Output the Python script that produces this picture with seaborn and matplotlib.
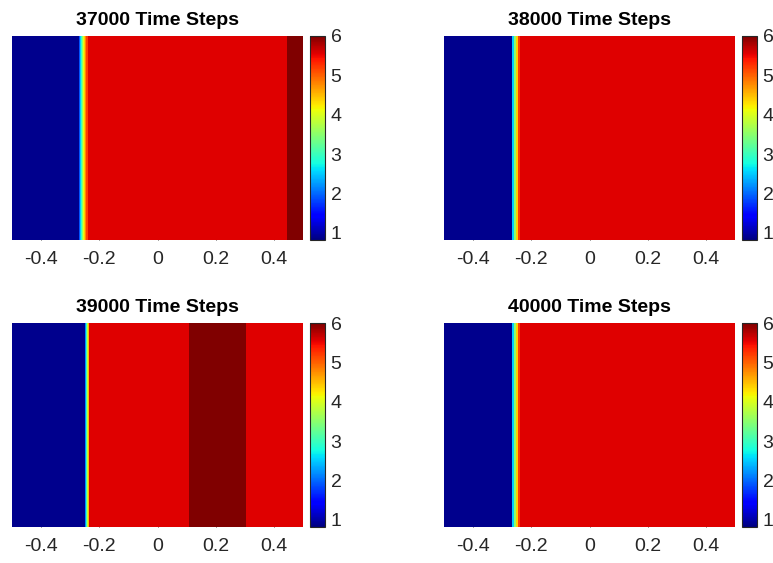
import numpy as np
import pandas as pd
import matplotlib
matplotlib.use("Agg")
import matplotlib.pyplot as plt
import seaborn as sns
from matplotlib import font_manager

titles = ["37000 Time Steps", "38000 Time Steps", "39000 Time Steps", "40000 Time Steps"]

# piecewise-constant profiles: segment edges (x) and value within each segment
edges_37000 = [-0.5, -0.270, -0.2665, -0.263, -0.2595, -0.256, -0.2525, -0.249, -0.2455, -0.240, 0.446, 0.5]
values_37000 = [0.9, 1.9, 2.5, 3.0, 3.5, 4.0, 4.4, 4.8, 5.2, 5.57, 6.0]

edges_38000 = [-0.5, -0.268, -0.2645, -0.261, -0.2575, -0.254, -0.2505, -0.247, -0.2435, -0.238, 0.5]
values_38000 = [0.9, 1.9, 2.5, 3.0, 3.5, 4.0, 4.4, 4.8, 5.2, 5.57]

edges_39000 = [-0.5, -0.249, -0.246, -0.243, -0.240, -0.237, -0.235, 0.107, 0.304, 0.5]
values_39000 = [0.9, 2.2, 3.0, 3.8, 4.5, 5.0, 5.57, 6.0, 5.57]

edges_40000 = [-0.5, -0.268, -0.2645, -0.261, -0.2575, -0.254, -0.2505, -0.247, -0.2435, -0.238, 0.5]
values_40000 = [0.9, 1.9, 2.5, 3.0, 3.5, 4.0, 4.4, 4.8, 5.2, 5.57]

x_ticks = [-0.4, -0.2, 0.0, 0.2, 0.4]
x_tick_labels = ["-0.4", "-0.2", "0", "0.2", "0.4"]
cbar_ticks = [1, 2, 3, 4, 5, 6]
cbar_tick_labels = ["1", "2", "3", "4", "5", "6"]
vmin, vmax = 0.82, 6.0

sns.set_style("white")
names = {f.name for f in font_manager.fontManager.ttflist}
fam = "Liberation Sans Narrow" if "Liberation Sans Narrow" in names else "Liberation Sans"
plt.rcParams["font.family"] = [fam, "DejaVu Sans"]

W, H = 773, 563
fig = plt.figure(figsize=(W / 100, H / 100), dpi=100)

N = 1000
xc = -0.5 + (np.arange(N) + 0.5) / N

def profile(edges, values):
    idx = np.clip(np.searchsorted(edges, xc, side="right") - 1, 0, len(values) - 1)
    return np.asarray(values)[idx]

panels = [
    (edges_37000, values_37000, 12, 36),
    (edges_38000, values_38000, 444, 36),
    (edges_39000, values_39000, 12, 323),
    (edges_40000, values_40000, 444, 323),
]
aw, ah = 291, 204
cw = 15
tick_col = "#262626"

for (edges, values, lx, ty), title in zip(panels, titles):
    ax = fig.add_axes([lx / W, 1 - (ty + ah) / H, aw / W, ah / H])
    cax = fig.add_axes([(lx + 298) / W, 1 - (ty + ah) / H, cw / W, ah / H])
    df = pd.DataFrame(profile(edges, values)[None, :])
    sns.heatmap(df, ax=ax, cmap="jet", vmin=vmin, vmax=vmax, cbar_ax=cax,
                xticklabels=False, yticklabels=False)
    ax.set_xticks([(t + 0.5) * N for t in x_ticks])
    ax.set_xticklabels(x_tick_labels)
    ax.set_yticks([])
    ax.tick_params(axis="x", labelsize=14, colors=tick_col, direction="in",
                   length=3, width=0.6, pad=8, bottom=True)
    ax.set_xlabel("")
    ax.set_ylabel("")
    for s in ax.spines.values():
        s.set_visible(False)
    ax.set_title(title, fontsize=14, fontweight="bold", color="black", pad=8)
    cbar = ax.collections[0].colorbar
    cbar.set_ticks(cbar_ticks)
    cbar.set_ticklabels(cbar_tick_labels)
    cbar.ax.tick_params(labelsize=14, colors=tick_col, direction="in",
                        length=3, width=0.6, pad=4)
    cbar.outline.set_edgecolor(tick_col)
    cbar.outline.set_linewidth(0.8)

fig.savefig("out.png", dpi=100)
